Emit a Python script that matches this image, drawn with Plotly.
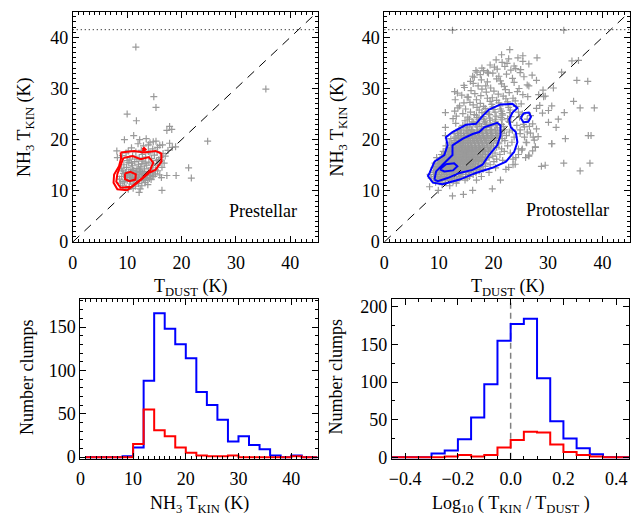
import plotly.graph_objects as go

# ---------------- data ----------------
# Prestellar scatter (T_dust, T_kin)
PRE_PTS = [
    (11.6,38.1),(35.5,29.9),(14.9,28.4),(15.3,26.3),(10.0,25.0),(11.7,23.7),(24.8,19.7),(17.8,22.6),
    (17.3,21.8),(21.3,14.5),(21.8,12.5),(19.0,13.0),(17.3,13.0),(16.4,10.1),(12.2,9.7),(18.9,18.6),
    (11.2,20.8),(8.1,17.8),(9.5,20.0),(12.3,20.0),(13.5,20.2),(14.2,19.4),(18.2,22.0),(14.8,19.6),
    (16.5,19.0),(15.6,18.5),(13.9,19.0),
    (9.2,11.0),(9.8,10.6),(10.4,10.8),(10.9,11.3),(11.5,10.9),(12.1,11.4),(12.7,11.0),(13.3,11.6),
    (9.5,11.8),(10.6,11.9),(11.8,11.7),(13.8,11.2),(10.2,10.3),(11.1,10.5),(12.4,10.4),(8.8,11.5),
    (8.6,12.3),(9.0,12.8),(9.3,13.4),(9.6,12.1),(9.9,12.6),(10.1,13.1),(10.3,13.7),(10.5,12.2),
    (10.7,12.7),(10.9,13.3),(11.1,13.9),(11.3,12.4),(11.5,12.9),(11.7,13.5),(11.9,12.1),(12.1,12.6),
    (12.3,13.2),(12.5,13.8),(12.7,12.3),(12.9,12.9),(13.1,13.5),(13.3,12.0),(13.5,12.6),(13.7,13.2),
    (13.9,13.8),(14.1,12.4),(14.3,13.0),(14.6,13.6),(14.9,12.8),(15.2,13.3),(15.6,13.9),(16.0,13.1),
    (9.2,13.9),(9.7,13.6),(10.0,12.0),(10.6,13.5),(11.2,12.0),(11.8,13.1),(12.2,13.7),(12.6,12.7),
    (13.0,12.2),(13.4,13.0),(13.8,12.5),(14.4,12.2),(10.4,12.9),(11.0,12.6),(11.6,13.7),(12.8,13.4),
    (14.7,13.1),(16.3,12.6),
    (9.0,14.3),(9.4,15.1),(9.9,14.6),(10.3,15.5),(10.7,14.2),(11.0,14.9),(11.4,15.7),(11.8,14.4),
    (12.1,15.2),(12.5,14.7),(12.9,15.8),(13.2,14.3),(13.6,15.0),(14.0,15.6),(14.4,14.5),(14.8,15.3),
    (15.2,14.1),(15.6,15.0),(16.0,15.7),(16.4,14.6),(16.8,15.4),(10.0,15.9),(11.2,14.0),(12.3,14.1),
    (13.3,15.4),(14.6,14.0),(15.4,15.9),(16.2,16.0),(10.8,15.4),(12.7,15.3),
    (8.2,16.5),(9.1,16.9),(9.8,17.4),(10.5,16.2),(11.0,16.8),(11.6,17.6),(12.2,16.4),(12.8,17.1),
    (13.4,16.6),(13.9,17.7),(14.5,16.3),(15.0,17.0),(15.5,17.6),(16.1,16.5),(16.6,17.3),(17.0,16.8),
    (17.5,17.9),(12.6,17.9),(10.2,17.8),(14.2,17.4),(15.8,16.1),(11.8,16.2),
    (10.8,18.4),(13.0,18.8),(14.7,18.2),(16.0,18.9),(17.8,19.3),(12.0,19.2),(18.3,18.5),(15.3,19.7),
]

# Protostellar scatter, dense part: rows of (T_kin, [T_dust ...])
PROTO_ROWS = [
    (12.1, [9.1, 10.4, 11.2, 12.3, 13.5, 14.8, 16.9, 21.3]),
    (12.5, [8.6, 9.7, 10.3, 11.0, 11.6, 12.1, 12.9, 13.8, 15.2]),
    (12.8, [9.2, 10.0, 10.6, 11.3, 11.9, 12.5, 13.2, 14.1, 15.6, 17.8]),
    (13.2, [8.4, 9.5, 10.2, 10.8, 11.4, 12.0, 12.7, 13.3, 14.0, 14.9, 16.3]),
    (13.6, [9.0, 9.8, 10.5, 11.1, 11.7, 12.3, 12.9, 13.6, 14.4, 15.4, 16.8, 19.2]),
    (13.9, [9.3, 10.1, 10.9, 11.5, 12.2, 12.8, 13.5, 14.2, 15.0, 15.9, 17.4, 35.9]),
    (14.2, [9.6, 10.3, 10.9, 11.4, 11.9, 12.5, 13.0, 13.6, 14.1, 14.7, 15.3, 16.0, 16.9, 18.1, 22.3]),
    (14.5, [9.1, 9.9, 10.6, 11.2, 11.7, 12.2, 12.8, 13.3, 13.9, 14.5, 15.1, 15.8, 16.6, 17.6, 20.4]),
    (14.8, [9.5, 10.2, 10.8, 11.4, 12.0, 12.6, 13.1, 13.7, 14.3, 14.9, 15.5, 16.2, 17.1, 18.5, 28.8]),
    (15.1, [9.8, 10.5, 11.1, 11.7, 12.3, 12.9, 13.4, 14.0, 14.6, 15.2, 15.9, 16.7, 17.8, 19.4, 23.6]),
    (15.4, [9.3, 10.1, 10.8, 11.4, 12.0, 12.6, 13.2, 13.8, 14.4, 15.0, 15.7, 16.4, 17.3, 18.6, 32.9, 37.7]),
    (15.7, [10.4, 11.1, 11.7, 12.3, 12.9, 13.5, 14.1, 14.7, 15.3, 16.0, 16.8, 17.9, 20.1]),
    (15.95, [9.9, 10.7, 11.4, 12.1, 12.7, 13.3, 13.9, 14.5, 15.1, 15.7, 16.4, 17.2, 18.3, 21.7]),
    (16.2, [10.2, 11.0, 11.7, 12.4, 13.0, 13.6, 14.2, 14.8, 15.4, 16.0, 16.7, 17.5, 18.6, 20.6]),
    (16.5, [9.6, 10.7, 11.4, 12.1, 12.7, 13.3, 13.9, 14.5, 15.1, 15.7, 16.3, 17.0, 17.9, 19.2, 24.1]),
    (16.8, [10.9, 11.8, 12.5, 13.1, 13.7, 14.3, 14.9, 15.5, 16.1, 16.8, 17.6, 18.5, 19.9, 26.5]),
    (17.1, [10.5, 11.5, 12.2, 12.9, 13.5, 14.1, 14.7, 15.3, 15.9, 16.5, 17.2, 18.0, 19.0, 21.2]),
    (17.4, [11.2, 12.0, 12.7, 13.3, 13.9, 14.5, 15.1, 15.7, 16.3, 17.0, 17.7, 18.6, 20.3, 23.1]),
    (17.7, [10.8, 11.7, 12.5, 13.1, 13.7, 14.3, 14.9, 15.5, 16.1, 16.8, 17.5, 18.3, 19.4, 22.0]),
    (17.95, [11.9, 12.8, 13.5, 14.1, 14.7, 15.3, 15.9, 16.6, 17.3, 18.1, 19.1, 25.2]),
    (18.2, [11.6, 12.5, 13.2, 13.8, 14.4, 15.0, 15.6, 16.2, 16.9, 17.6, 18.4, 19.5, 21.5, 24.6]),
    (18.5, [12.1, 13.0, 13.7, 14.3, 14.9, 15.5, 16.1, 16.8, 17.5, 18.3, 19.2, 20.6, 27.7]),
    (18.8, [11.3, 12.7, 13.5, 14.2, 14.8, 15.4, 16.0, 16.7, 17.4, 18.1, 18.9, 20.0, 22.6]),
    (19.2, [12.4, 13.3, 14.0, 14.6, 15.3, 15.9, 16.6, 17.3, 18.0, 18.8, 19.7, 21.0, 30.7]),
    (19.5, [11.9, 13.0, 13.8, 14.5, 15.2, 15.8, 16.5, 17.2, 17.9, 18.7, 19.6, 20.9, 23.4, 26.0]),
    (19.8, [12.8, 13.6, 14.3, 15.0, 15.7, 16.4, 17.1, 17.8, 18.6, 19.5, 20.5, 22.1]),
    (20.2, [12.2, 13.3, 14.1, 14.8, 15.5, 16.2, 16.9, 17.6, 18.4, 19.2, 20.2, 21.6, 33.2]),
    (20.5, [13.0, 13.9, 14.7, 15.4, 16.1, 16.8, 17.5, 18.2, 19.0, 19.9, 21.0, 23.8, 27.3]),
    (20.8, [11.2, 13.6, 14.5, 15.3, 16.0, 16.7, 17.4, 18.1, 18.9, 19.7, 20.7, 22.4, 37.4, 37.9]),
    (21.2, [12.8, 14.1, 15.0, 15.8, 16.5, 17.3, 18.0, 18.8, 19.6, 20.5, 21.6, 24.9]),
    (21.5, [13.4, 14.6, 15.5, 16.3, 17.1, 17.9, 18.7, 19.5, 20.4, 21.4, 22.9, 26.2]),
    (21.85, [14.0, 15.2, 16.1, 17.0, 17.8, 18.6, 19.4, 20.3, 21.3, 23.5]),
]
# Protostellar scatter, sparse part: (T_dust, T_kin)
PROTO_PTS = [
    (8.3,10.8),(9.9,10.1),(10.6,11.2),(11.3,11.6),(12.0,11.0),(12.5,9.0),(14.5,9.3),(16.2,10.1),
    (19.8,10.4),(9.4,11.7),(13.2,11.5),(10.2,11.9),(12.6,11.8),
    (25.3,18.2),(26.1,19.4),(25.7,20.5),(26.8,21.3),(27.5,19.9),(24.9,21.9),(25.5,23.0),(26.6,22.6),
    (27.9,22.1),(24.6,17.1),(25.9,16.5),(27.2,17.8),(28.2,20.6),(26.2,24.0),(23.6,16.2),(22.8,14.6),
    (24.0,15.2),(29.5,15.0),(26.5,17.0),(27.7,18.6),(30.7,19.2),
    (11.2,22.4),(13.7,22.0),(15.0,22.3),(16.0,21.9),(17.0,22.5),(17.9,22.1),(18.8,22.4),(19.7,22.0),
    (20.7,22.3),(22.0,21.9),(25.7,22.5),(31.5,22.4),
    (14.4,22.8),(15.7,22.5),(16.8,22.9),(17.8,22.6),(18.7,23.0),(19.6,22.7),(20.6,22.9),(21.8,22.6),(24.3,22.8),
    (13.1,23.2),(15.2,23.0),(16.4,23.4),(17.5,23.1),(18.5,23.3),(19.4,22.9),(20.4,23.2),(21.5,23.0),
    (23.0,23.4),(27.2,23.1),
    (14.8,23.7),(16.1,23.5),(17.3,23.9),(18.4,23.6),(19.4,23.8),(20.4,23.5),(21.6,23.9),(22.8,23.6),(30.1,23.4),
    (12.6,24.1),(15.6,24.0),(17.0,24.3),(18.2,24.0),(19.3,24.2),(20.3,23.9),(21.4,24.3),(22.6,24.1),
    (24.8,24.4),(31.9,24.0),
    (13.2,24.6),(15.3,24.4),(16.9,24.8),(18.1,24.5),(19.3,24.9),(20.5,24.6),(21.7,24.8),(23.2,24.5),(26.8,24.7),
    (14.4,25.1),(16.5,24.9),(17.9,25.3),(19.1,25.0),(20.3,25.4),(21.6,25.1),(23.0,25.3),(25.3,25.0),(29.0,25.2),
    (12.9,25.6),(15.8,25.4),(17.4,25.8),(18.8,25.5),(20.1,25.9),(21.5,25.6),(23.1,25.8),(24.6,25.4),(30.1,25.7),
    (11.2,25.3),(14.9,26.0),(17.0,26.3),(18.5,26.1),(19.9,26.4),(21.3,26.0),(22.8,26.3),(27.9,26.1),(33.0,25.3),
    (13.8,26.6),(16.3,26.8),(18.2,26.5),(19.7,26.9),(21.2,26.6),(22.7,26.8),(24.2,26.5),(28.5,26.7),
    (13.5,26.2),(15.7,27.3),(17.6,27.1),(19.4,27.5),(21.0,27.2),(22.6,27.4),(25.1,27.0),(35.9,26.2),(38.5,26.2),
    (14.6,27.2),(16.9,27.8),(18.9,28.1),(20.6,27.7),(22.3,28.0),(24.0,27.6),(30.7,26.6),
    (13.0,27.8),(15.4,28.3),(17.7,28.6),(19.8,28.2),(21.8,28.5),(23.6,28.1),(26.3,28.4),
    (14.2,28.7),(16.6,29.0),(18.7,29.3),(20.9,28.9),(22.9,29.2),(25.4,28.8),(34.7,27.5),
    (15.9,29.6),(17.9,29.9),(20.1,29.5),(22.2,29.8),(24.4,29.4),(29.2,28.4),
    (14.7,30.2),(17.2,30.5),(19.5,30.1),(22.0,30.4),(24.7,30.0),(28.3,28.8),
    (13.4,29.1),(16.3,31.0),(18.9,31.3),(21.5,30.9),(23.8,31.2),(29.5,28.5),
    (12.9,29.4),(15.2,28.3),(17.8,31.7),(20.6,31.9),(26.5,30.5),(29.1,29.7),
    (16.5,32.2),(18.6,30.5),(21.0,32.4),(23.5,32.0),(26.2,30.7),(31.0,30.1),
    (14.6,30.6),(17.6,32.7),(19.9,33.0),(22.4,32.8),(24.9,33.1),(27.9,31.6),
    (15.8,31.4),(18.2,33.5),(20.7,33.8),(25.6,32.3),(32.5,33.2),
    (17.0,33.2),(21.3,31.5),(23.2,33.6),(35.3,31.6),(37.3,31.4),
    (17.9,34.0),(20.2,34.2),(23.8,34.4),(27.1,32.6),
    (16.2,32.4),(19.1,33.0),(22.5,34.9),(25.0,33.7),
    (16.8,33.5),(18.9,33.2),(21.6,35.1),
    (20.5,35.6),(24.1,33.9),
    (22.1,34.3),(26.5,34.8),(19.4,34.6),(34.4,35.4),(35.6,35.5),(28.0,36.0),(24.5,36.0),(22.8,35.8),
    (25.4,35.3),(23.0,37.6),(25.4,36.4),(21.5,36.6),(12.5,41.4),(32.9,41.4),
]

# Contours (traced)
RED_OUTER_X = [8.8, 11.3, 13.1, 15.2, 16.3, 16.3, 15.2, 14.0, 11.9, 10.0, 8.2, 7.5, 7.6, 8.5, 8.9, 8.8]
RED_OUTER_Y = [17.5, 17.8, 17.5, 17.8, 17.3, 15.7, 14.1, 13.5, 11.6, 10.1, 10.3, 11.6, 13.2, 14.8, 16.4, 17.5]
RED_MID_X = [9.3, 11.0, 12.5, 14.0, 14.8, 14.2, 12.8, 10.8, 8.8, 8.0, 8.2, 8.8, 9.3]
RED_MID_Y = [16.4, 16.8, 16.2, 16.6, 15.5, 14.0, 12.5, 10.8, 10.6, 11.8, 13.3, 15.0, 16.4]
RED_IN_X = [9.6, 10.6, 11.6, 11.5, 10.4, 9.6, 9.6]
RED_IN_Y = [13.4, 13.7, 13.2, 12.2, 11.9, 12.3, 13.4]
RED_DOT_X = [12.8, 13.1, 13.4, 13.1, 12.8]
RED_DOT_Y = [18.1, 18.4, 18.1, 17.8, 18.1]

BLUE_OUTER_X = [8.3, 9.2, 11.0, 11.6, 11.3, 12.5, 15.0, 16.8, 18.0, 19.2, 21.3, 23.5, 24.4, 23.5, 22.9, 23.2,
                24.1, 24.4, 23.8, 22.3, 19.8, 16.8, 13.8, 10.7, 8.9, 8.0, 8.3]
BLUE_OUTER_Y = [13.5, 15.7, 17.0, 18.9, 20.5, 21.5, 22.9, 23.1, 24.6, 25.9, 26.9, 27.0, 26.2, 25.3, 24.0, 22.4,
                21.5, 19.5, 17.6, 15.7, 14.5, 13.5, 12.2, 11.3, 11.6, 12.9, 13.5]
BLUE_IN_X = [9.2, 9.5, 10.7, 12.5, 12.5, 14.4, 16.2, 17.4, 18.3, 19.5, 20.7, 21.3, 21.3, 20.7, 19.2, 18.0,
             16.2, 13.8, 11.6, 9.8, 9.2]
BLUE_IN_Y = [12.2, 13.8, 15.1, 17.0, 18.9, 20.2, 21.1, 21.5, 22.4, 22.9, 23.3, 22.8, 20.8, 18.9, 17.0, 15.1,
             14.1, 13.5, 12.5, 11.9, 12.2]
BLUE_S1_X = [10.2, 11.3, 12.8, 13.4, 12.6, 11.0, 10.2]
BLUE_S1_Y = [14.2, 15.2, 15.4, 14.8, 14.0, 13.8, 14.2]
BLUE_S2_X = [25.0, 25.6, 26.5, 26.9, 26.4, 25.5, 25.0]
BLUE_S2_Y = [24.3, 25.2, 25.3, 24.5, 23.5, 23.4, 24.3]

# Histograms of T_kin (bin centres, 2 K bins)
TK_CENTERS = [1, 3, 5, 7, 9, 11, 13, 15, 17, 19, 21, 23, 25, 27, 29, 31, 33, 35, 37, 39, 41, 43, 45]
TK_PROTO = [0, 0, 0, 0, 1, 11, 88, 166, 148, 130, 114, 75, 60, 43, 18, 24, 14, 9, 2, 0, 2, 0, 0]
TK_PRE = [0, 0, 0, 0, 0, 15, 55, 31, 24, 11, 5, 2, 1, 1, 2, 0, 0, 0, 0, 0, 1, 0, 0]

# Histograms of log10(T_kin/T_dust) (0.05 bins)
LR_CENTERS = [-0.475, -0.425, -0.375, -0.325, -0.275, -0.225, -0.175, -0.125, -0.075, -0.025,
              0.025, 0.075, 0.125, 0.175, 0.225, 0.275, 0.325, 0.375, 0.425, 0.475]
LR_PROTO = [0, 0, 0, 0, 5, 9, 24, 53, 97, 155, 177, 184, 105, 48, 25, 12, 4, 0, 0, 0]
LR_PRE = [0, 0, 0, 0, 0, 1, 3, 1, 3, 13, 23, 34, 33, 17, 7, 3, 1, 0, 0, 0]

T_LIMIT = 41.5

# ---------------- figure ----------------
px, py = [p[0] for p in PRE_PTS], [p[1] for p in PRE_PTS]
qx, qy = [], []
for yk, xs in PROTO_ROWS:
    for xd in xs:
        qx.append(xd); qy.append(yk)
for xd, yk in PROTO_PTS:
    qx.append(xd); qy.append(yk)

FONT = "Liberation Serif"
GRAY = "#9a9a9a"
fig = go.Figure()

def scatter_pts(x, y, xa, ya):
    fig.add_trace(go.Scatter(x=x, y=y, mode="markers", xaxis=xa, yaxis=ya, showlegend=False,
                             marker=dict(symbol="cross-thin", size=5, line=dict(color=GRAY, width=1.2), color=GRAY)))

def line(x, y, xa, ya, color, width=2, dash=None, shape="linear"):
    fig.add_trace(go.Scatter(x=x, y=y, mode="lines", xaxis=xa, yaxis=ya, showlegend=False,
                             line=dict(color=color, width=width, dash=dash, shape=shape)))

# top-left
scatter_pts(px, py, "x", "y")
line([0, 45], [0, 45], "x", "y", "black", 1, "9px,7px")
line([0, 45], [T_LIMIT, T_LIMIT], "x", "y", "black", 1, "1px,3px")
for cx, cy in [(RED_OUTER_X, RED_OUTER_Y), (RED_MID_X, RED_MID_Y), (RED_IN_X, RED_IN_Y), (RED_DOT_X, RED_DOT_Y)]:
    line(cx, cy, "x", "y", "red", 2)

# top-right
scatter_pts(qx, qy, "x2", "y2")
line([0, 45], [0, 45], "x2", "y2", "black", 1, "9px,7px")
line([0, 45], [T_LIMIT, T_LIMIT], "x2", "y2", "black", 1, "1px,3px")
for cx, cy in [(BLUE_OUTER_X, BLUE_OUTER_Y), (BLUE_IN_X, BLUE_IN_Y), (BLUE_S1_X, BLUE_S1_Y), (BLUE_S2_X, BLUE_S2_Y)]:
    line(cx, cy, "x2", "y2", "blue", 2)

# bottom-left
line(TK_CENTERS, TK_PROTO, "x3", "y3", "blue", 2, shape="hvh")
line(TK_CENTERS, TK_PRE, "x3", "y3", "red", 2, shape="hvh")

# bottom-right
line([0, 0], [-2, 210], "x4", "y4", "gray", 1.5, "6px,4px")
line(LR_CENTERS, LR_PROTO, "x4", "y4", "blue", 2, shape="hvh")
line(LR_CENTERS, LR_PRE, "x4", "y4", "red", 2, shape="hvh")

W, H = 637, 518
def dom_x(a, b): return [a / W, b / W]
def dom_y(top, bot): return [1 - bot / H, 1 - top / H]

def ax(domain, rng, dtick, minor, anchor, fmt=None, standoff=0):
    d = dict(domain=domain, range=rng, dtick=dtick, tick0=0, showline=True, linecolor="black", linewidth=1,
             mirror="allticks", ticks="inside", ticklen=6, tickcolor="black", tickwidth=1,
             minor=dict(ticks="inside", ticklen=3, dtick=minor, tick0=0, tickcolor="black", tickwidth=1),
             showgrid=False, zeroline=False, anchor=anchor, ticklabelstandoff=standoff,
             tickfont=dict(family=FONT, size=18, color="black"))
    if fmt:
        d["tickformat"] = fmt
    return d

fig.update_layout(
    width=W, height=H, margin=dict(l=0, r=0, t=0, b=0),
    paper_bgcolor="white", plot_bgcolor="white",
    xaxis=ax(dom_x(68.3, 315), [0, 45], 10, 1, "y", standoff=4),
    yaxis=ax(dom_y(10, 245.7), [0, 45], 10, 1, "x"),
    xaxis2=ax(dom_x(382.3, 629.7), [0, 45], 10, 1, "y2", standoff=4),
    yaxis2=ax(dom_y(10, 245.7), [0, 45], 10, 1, "x2"),
    xaxis3=ax(dom_x(76, 315), [0, 45], 10, 1, "y3", standoff=4),
    yaxis3=ax(dom_y(304.3, 467.7), [-2, 182], 50, 10, "x3"),
    xaxis4=ax(dom_x(390, 629.3), [-0.45, 0.45], 0.2, 0.05, "y4", ".1f", standoff=4),
    yaxis4=ax(dom_y(304.3, 467.7), [-2, 210], 50, 25, "x4"),
)

def ann(text, x, y, angle=0, size=18, yanchor="middle"):
    fig.add_annotation(text=text, x=x / W, y=1 - y / H, xref="paper", yref="paper", showarrow=False,
                       textangle=angle, font=dict(family=FONT, size=size, color="black"),
                       xanchor="center", yanchor=yanchor)

KIN = "NH<sub>3</sub> T<sub>KIN</sub> (K)"
DUST = "T<sub>DUST</sub> (K)"
ann(KIN, 20, 128, -90)
ann(KIN, 336, 128, -90)
ann(DUST, 187, 292)
ann(DUST, 506, 292)
ann("Number clumps", 22, 384, -90)
ann("Number clumps", 334, 384, -90)
ann(KIN, 196, 514)
ann("Log<sub>10</sub> ( T<sub>KIN</sub> / T<sub>DUST</sub> )", 510, 514)

fig.add_annotation(text="Prestellar", x=34.9, y=6.1, xref="x", yref="y", showarrow=False,
                   font=dict(family=FONT, size=18, color="black"))
fig.add_annotation(text="Protostellar", x=33.5, y=6.2, xref="x2", yref="y2", showarrow=False,
                   font=dict(family=FONT, size=18, color="black"))

fig.write_html("out.html")
